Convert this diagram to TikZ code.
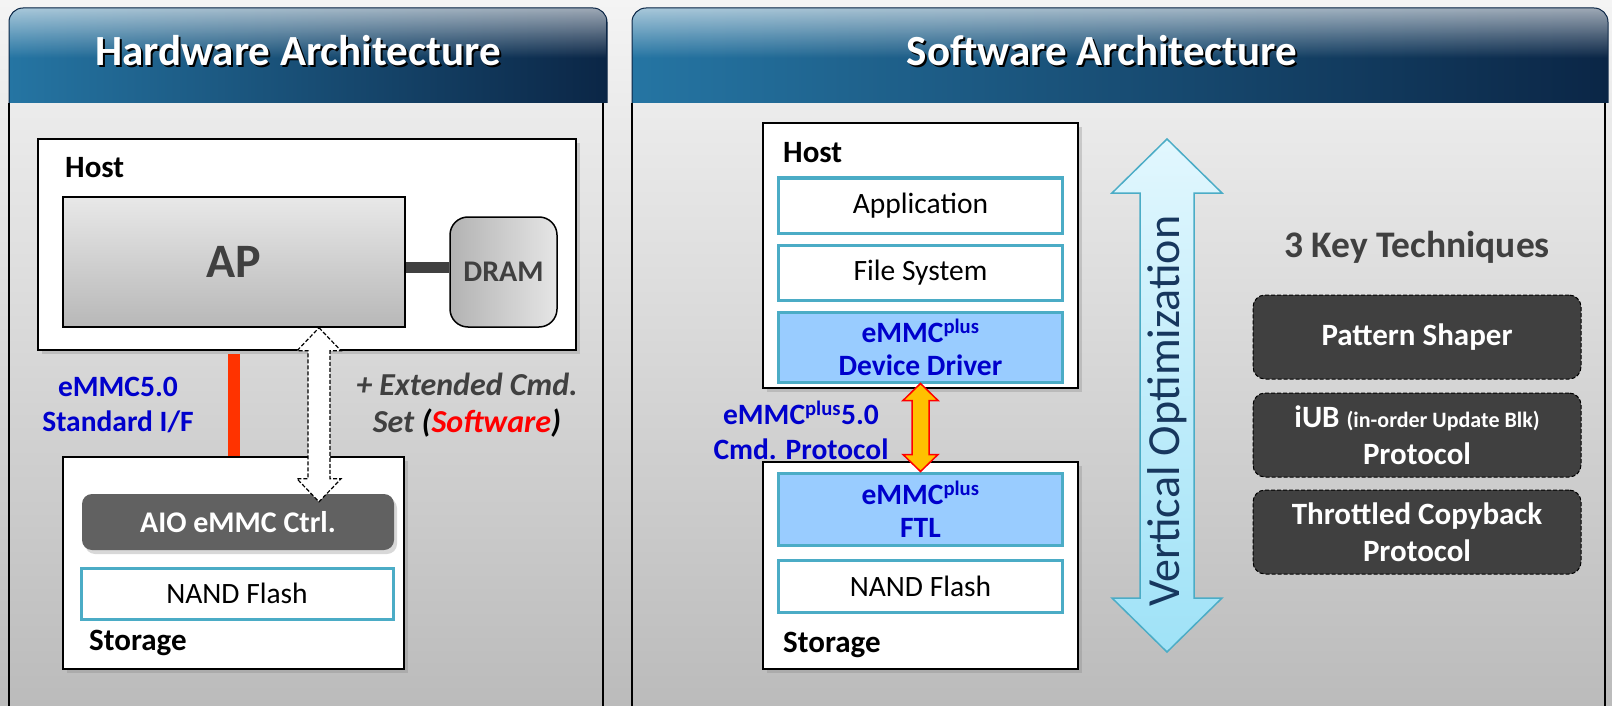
\documentclass[tikz,border=0pt]{standalone}
\usepackage{fontspec}
\setmainfont{Carlito}
\usetikzlibrary{positioning,shadows,fadings,calc}

\definecolor{bgtop}{HTML}{F4F4F4}
\definecolor{bgbot}{HTML}{BBBBBB}
\definecolor{hdrlight}{HTML}{2575A3}
\definecolor{hdrdark}{HTML}{0B2646}
\definecolor{tealline}{HTML}{4BACC6}
\definecolor{ltblue}{HTML}{99CCFF}
\definecolor{emmcblue}{HTML}{0000CC}
\definecolor{txtgray}{HTML}{404040}
\definecolor{ctrlgray}{HTML}{616161}
\definecolor{barred}{HTML}{FF3300}
\definecolor{amber}{HTML}{FFC000}
\definecolor{opttop}{HTML}{E2F7FE}
\definecolor{optbot}{HTML}{9FE2F7}
\definecolor{optblue}{HTML}{17375E}

\tikzfading[name=hlfade, top color=transparent!40, bottom color=transparent!100]

% vertical double arrow: style, top, bottom, shaft half, head half, head length
\newcommand{\vdblarrow}[6]{%
  \draw[#1] let \p1=(#2), \p2=(#3) in
    (\x1,\y1) -- (\x1+#5,\y1-#6) -- (\x1+#4,\y1-#6) -- (\x1+#4,\y2+#6)
    -- (\x1+#5,\y2+#6) -- (\x1,\y2) -- (\x1-#5,\y2+#6) -- (\x1-#4,\y2+#6)
    -- (\x1-#4,\y1-#6) -- (\x1-#5,\y1-#6) -- cycle;}

\tikzset{
  title/.style={font=\fontsize{43}{50}\selectfont\bfseries, text=white, inner sep=0pt},
  titleshade/.style={title, text=black},
  box/.style={draw=black, fill=white, line width=1.5pt, inner sep=0pt,
    drop shadow={opacity=0.3, shadow xshift=4pt, shadow yshift=-4pt}},
  lbl/.style={font=\fontsize{31}{36}\selectfont\bfseries, inner sep=0pt},
  apbox/.style={draw=black, line width=1.5pt, top color=black!9, bottom color=black!28,
    font=\fontsize{48}{52}\selectfont\bfseries, text=txtgray},
  drambox/.style={draw=black, line width=1.5pt, rounded corners=18pt,
    left color=black!30, right color=black!10,
    font=\fontsize{30}{34}\selectfont\bfseries, text=txtgray},
  ctrlbox/.style={fill=ctrlgray, rounded corners=10pt, minimum width=312pt, minimum height=56pt,
    font=\fontsize{30}{35}\selectfont\bfseries, text=white,
    drop shadow={opacity=0.3, shadow xshift=3pt, shadow yshift=-4pt}},
  layer/.style={draw=tealline, fill=white, line width=3pt, minimum width=284pt,
    minimum height=52pt, inner sep=0pt, align=center,
    font=\fontsize{29.5}{33}\selectfont},
  hilite/.style={fill=ltblue, text=emmcblue, font=\fontsize{29.5}{33}\selectfont\bfseries},
  bluelbl/.style={font=\fontsize{29.5}{35}\selectfont\bfseries, text=emmcblue, align=center},
  extlbl/.style={font=\fontsize{32}{37}\selectfont\bfseries\itshape, text=txtgray, align=center},
  dasharrow/.style={fill=white, draw=black, line width=1.2pt, dash pattern=on 4pt off 2pt},
  orangearrow/.style={fill=amber, draw=red, line width=1.5pt},
  optarrow/.style={top color=opttop, bottom color=optbot, draw=tealline, line width=1.5pt},
  opttext/.style={font=\fontsize{46}{50}\selectfont, text=optblue},
  techtitle/.style={font=\fontsize{37.5}{42}\selectfont\bfseries, text=txtgray},
  tech/.style={fill=txtgray, draw=black, line width=1pt, dash pattern=on 4pt off 2pt,
    rounded corners=12pt, minimum width=328pt, minimum height=84pt, align=center,
    font=\fontsize{31}{37}\selectfont\bfseries, text=white}
}

\begin{document}
\begin{tikzpicture}[x=1pt, y=-1pt]
  % Background and panels
  \shade[top color=bgtop, bottom color=bgbot] (0,0) rectangle (1612,706);
  \useasboundingbox (0,0) rectangle (1612,706);
  \begin{scope}
    \clip (0,0) rectangle (1612,103);
    \clip[rounded corners=14pt] (9,8) rectangle (607,140);
    \shade[left color=hdrlight, right color=hdrdark] (9,8) rectangle (607,103);
    \fill[white, path fading=hlfade] (9,8) rectangle (607,58);
  \end{scope}
  \begin{scope}
    \clip (0,0) rectangle (1612,103);
    \clip[rounded corners=14pt] (632,8) rectangle (1608,140);
    \shade[left color=hdrlight, right color=hdrdark] (632,8) rectangle (1608,103);
    \fill[white, path fading=hlfade] (632,8) rectangle (1608,58);
  \end{scope}
  \draw[hdrdark, line width=1pt, rounded corners=14pt] (9,103) -- (9,8) -- (607,8) -- (607,103);
  \draw[hdrdark, line width=1pt, rounded corners=14pt] (632,103) -- (632,8) -- (1608,8) -- (1608,103);
  \draw[line width=1.5pt] (9,103) -- (9,706) (603,103) -- (603,706)
    (632,103) -- (632,706) (1605,103) -- (1605,706);
  \node[titleshade] (hwts) at (300,53) {Hardware Architecture};
  \node[title] (hwt) at (298,51) {Hardware Architecture};
  \node[titleshade] (swts) at (1104,53) {Software Architecture};
  \node[title] (swt) at (1102,51) {Software Architecture};

  % Hardware side
  \node[box, minimum width=538pt, minimum height=211pt] (hhost) at (307,244.5) {};
  \node[lbl, anchor=base west] (hhostl) at (65,178) {Host};
  \node[apbox, minimum width=342pt, minimum height=130pt] (ap) at (234,262) {AP};
  \node[drambox, minimum width=107pt, minimum height=110pt] (dram) at (503.5,272) {DRAM};
  \draw[line width=11pt, txtgray] ([yshift=-5pt]ap.east) -- ([yshift=-5pt]ap.east -| dram.west);
  \node[box, minimum width=341pt, minimum height=212pt] (hstor) at (233.5,563) {};
  \node[ctrlbox] (ctrl) at (238,522) {AIO eMMC Ctrl.};
  \node[layer, minimum width=312pt, minimum height=51pt] (hnand) at (237,593.5) {NAND Flash};
  \node[lbl, anchor=base west] (hstorl) at (89,650) {Storage};
  \draw[barred, line width=12pt] ($(hhost.south -| ap.south)+(0,3)$) -- (ap.south |- hstor.north);
  \vdblarrow{dasharrow}{$(ap.south)+(85,0)$}{$(ctrl.north)+(81,8)$}{11pt}{22pt}{23pt}
  \node[bluelbl] (stdif) at (118,405) {eMMC5.0\\Standard I/F};
  \node[extlbl] (ext) at (467,405)
    {+ Extended Cmd.\\Set \textcolor{black}{(}\textcolor{red}{Software}\textcolor{black}{)}};

  % Software side
  \node[box, minimum width=315pt, minimum height=265pt] (shost) at (920.5,255.5) {};
  \node[lbl, anchor=base west] (shostl) at (783,163) {Host};
  \node[layer, minimum height=55pt] (app) at (920.5,205.5) {Application};
  \node[layer, minimum height=55pt, below=9pt of app] (fs) {File System};
  \node[layer, hilite, minimum height=70pt, below=9pt of fs] (dd) {eMMC\textsuperscript{plus}\\Device Driver};
  \node[box, minimum width=315pt, minimum height=207pt] (sstor) at (920.5,565.5) {};
  \node[layer, hilite, minimum height=72pt] (ftl) at (920.5,509) {eMMC\textsuperscript{plus}\\FTL};
  \node[layer, below=12pt of ftl] (snand) {NAND Flash};
  \node[lbl, anchor=base west] (sstorl) at (783,652) {Storage};
  \vdblarrow{orangearrow}{dd.south}{ftl.north}{8.5pt}{17.5pt}{17pt}
  \node[bluelbl] (cmdp) at (801,430) {eMMC\textsuperscript{plus}5.0\\Cmd. Protocol};

  % Vertical optimization
  \coordinate (vtop) at (1167,139);
  \coordinate (vbot) at (1167,652);
  \vdblarrow{optarrow}{vtop}{vbot}{27pt}{55pt}{54pt}
  \node[opttext, rotate=90] (vopt) at (1167,411) {Vertical Optimization};

  % Key techniques
  \node[techtitle] (kt) at (1417,247) {3 Key Techniques};
  \node[tech] (t1) at (1417,337) {Pattern Shaper};
  \node[tech, below=13pt of t1] (t2) {iUB {\fontsize{22}{26}\selectfont (in-order Update Blk)}\\Protocol};
  \node[tech, below=12pt of t2] (t3) {Throttled Copyback\\Protocol};
\end{tikzpicture}
\end{document}
